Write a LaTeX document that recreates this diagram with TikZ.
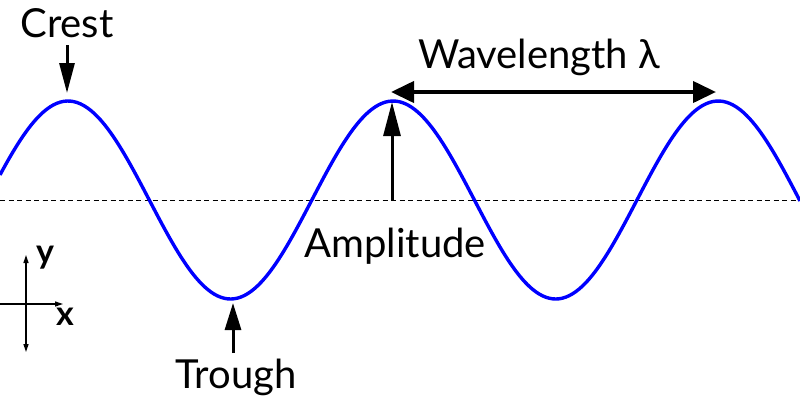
\documentclass[tikz,border=0pt]{standalone}
\usepackage{fontspec}
\setmainfont{Lato}
\usetikzlibrary{arrows.meta}
\tikzset{
  wave/.style={draw={rgb,255:red,0;green,0;blue,255}, line width=3.4pt},
  axisline/.style={draw=black, line width=1pt, dash pattern=on 5pt off 3.5pt},
  lbl/.style={inner sep=0pt, anchor=base, font=\fontsize{40}{48}\selectfont},
  axlbl/.style={inner sep=0pt, font=\fontsize{34}{40}\selectfont\bfseries},
  pointer/.style={line width=3pt, -{Triangle[length=30pt,width=15pt]}},
  coordarrow/.style={line width=1.3pt}
}
\begin{document}
\begin{tikzpicture}[x=1pt,y=-1pt]
\useasboundingbox (0,0) rectangle (800,400);
% axis line
\coordinate (axL) at (0,200);
\coordinate (axR) at (800,200);
\draw[axisline] (axL) -- (axR);
% wave
\draw[wave] plot[domain=0:800, samples=240, smooth] (\x,{200-99*cos((\x-68)*1.10727)});
% key points
\coordinate (crestTip) at (67,93);
\coordinate (troughTip) at (233,303);
\coordinate (ampBase) at (392,200);
\coordinate (ampTip) at (392,102);
\coordinate (wlL) at (391,92);
\coordinate (wlR) at (716,92);
% labels
\node[lbl] (crest) at (67,37) {Crest};
\node[lbl] (trough) at (236,388) {Trough};
\node[lbl] (amp) at (395,257) {Amplitude};
\node[lbl] (wl) at (539,68) {Wavelength λ};
% arrows
\coordinate (crestTail) at (67,45);
\draw[pointer] (crestTail) -- (crestTip);
\coordinate (troughTail) at (233,353);
\draw[pointer, -{Triangle[length=27pt,width=16pt]}] (troughTail) -- (troughTip);
\draw[pointer, -{Triangle[length=34pt,width=17pt]}] (ampBase) -- (ampTip);
\draw[line width=4pt, {Triangle[length=23pt,width=21pt]}-{Triangle[length=23pt,width=21pt]}] (wlL) -- (wlR);
% coordinate axes
\coordinate (yTop) at (26,255);
\coordinate (yBot) at (26,352);
\coordinate (xL) at (0,304);
\coordinate (xR) at (63,304);
\draw[coordarrow, {Triangle[length=8pt,width=5pt]}-{Triangle[length=8pt,width=5pt]}] (yBot) -- (yTop);
\draw[coordarrow, -{Triangle[length=8pt,width=5pt]}] (xL) -- (xR);
\node[axlbl] (ylab) at (45,258) {y};
\node[axlbl] (xlab) at (65,317) {x};
\end{tikzpicture}
\end{document}
